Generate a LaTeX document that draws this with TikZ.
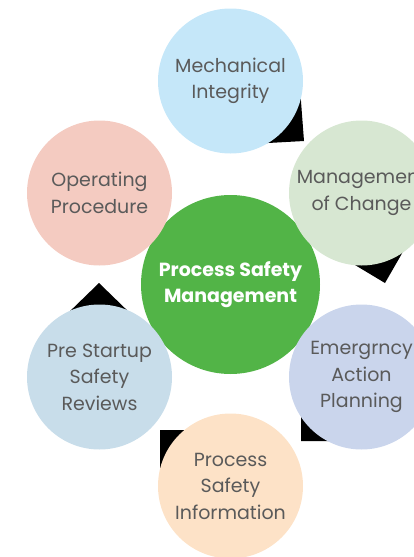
\documentclass[tikz,border=0pt]{standalone}
\usepackage{fontspec}
\setmainfont{Poppins}
\definecolor{txtgray}{HTML}{5A5A5A}
\definecolor{cMI}{HTML}{C5E7F9}
\definecolor{cOP}{HTML}{F4CBC1}
\definecolor{cMC}{HTML}{D7E7D2}
\definecolor{cPSM}{HTML}{52B447}
\definecolor{cPS}{HTML}{C8DDEA}
\definecolor{cEA}{HTML}{CAD5EC}
\definecolor{cPI}{HTML}{FDE2C7}
\begin{document}
\begin{tikzpicture}[x=1pt,y=-1pt,
  bub/.style={circle, minimum size=145pt, inner sep=0pt, align=center,
    font=\fontsize{19}{26.5}\selectfont, text=txtgray},
  hub/.style={circle, minimum size=179pt, inner sep=0pt, align=center,
    font=\bfseries\fontsize{19}{26}\selectfont, text=white, fill=cPSM},
  arrowtri/.style={fill=black}]
\useasboundingbox (0,0) rectangle (414,557);
\clip (0,0) rectangle (414,557);
% cycle arrow heads (partly hidden behind the circles)
\fill[arrowtri] (299,75) -- (304,141) -- (250,144) -- cycle;
\fill[arrowtri] (330,250) -- (385,283) -- (412,236) -- cycle;
\fill[arrowtri] (301,400) -- (301,441) -- (345,441) -- cycle;
\fill[arrowtri] (160,480) -- (160,430) -- (200,430) -- cycle;
\fill[arrowtri] (65,316) -- (99,283) -- (133,316) -- cycle;
% hub
\node[hub] (psm) at (230.5,284.5) {Process Safety\\Management};
% outer circles
\node[bub, fill=cMI] (mi) at (230.5,81) {Mechanical\\Integrity};
\node[bub, fill=cOP] (op) at (99.5,193) {Operating\\Procedure};
\node[bub, fill=cMC] (mc) at (361.5,193) {Management\\of Change};
\node[bub, fill=cPS] (ps) at (99.5,377) {Pre Startup\\Safety\\Reviews};
\node[bub, fill=cEA] (ea) at (361.5,377) {Emergrncy\\Action\\Planning};
\node[bub, fill=cPI] (pi) at (230.5,486) {Process\\Safety\\Information};
\end{tikzpicture}
\end{document}
